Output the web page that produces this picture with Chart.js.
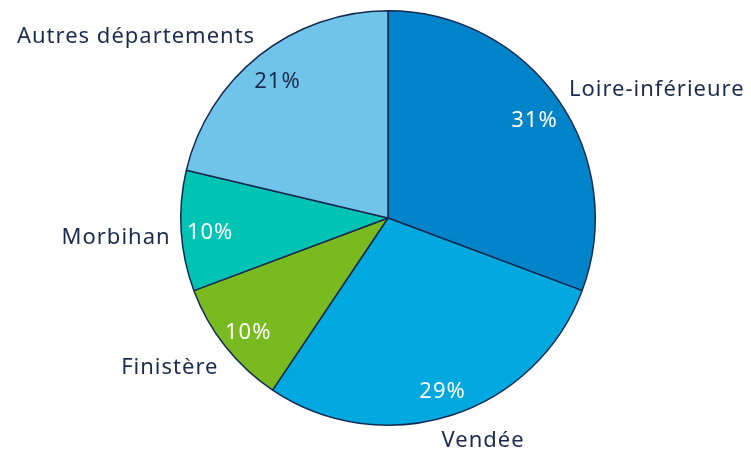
<!DOCTYPE html>
<html>
<head>
<meta charset="utf-8">
<script src="https://cdn.jsdelivr.net/npm/chart.js@4"></script>
<style>
  html, body { margin: 0; padding: 0; background: #fff; }
  #wrap { width: 751px; height: 455px; }
</style>
</head>
<body>
<div id="wrap"><canvas id="myChart" width="751" height="455"></canvas></div>
<script>
// departements and their share
const departements = ['Loire-inférieure', 'Vendée', 'Finistère', 'Morbihan', 'Autres départements'];
const shares = [30.7, 28.7, 9.9, 9.4, 21.3];
const percentLabels = ['31%', '29%', '10%', '10%', '21%'];

const sliceColors = ['#0084c9', '#00a8e0', '#78ba1f', '#00c4b3', '#70c4e9'];
const percentColors = ['#ffffff', '#ffffff', '#ffffff', '#ffffff', '#1b2a4e'];
const textColor = '#1b2a4e';
const fontFamily = '"Noto Sans", sans-serif';

// small nudges so the outside names sit where the original put them
const nameNudge = [[-3, -5], [-15, 6], [6, 7], [6, 2], [6, -10]];

// draws percentages inside and names outside each slice
const sliceLabels = {
  id: 'sliceLabels',
  afterDatasetsDraw(chart) {
    const ctx = chart.ctx;
    const arcs = chart.getDatasetMeta(0).data;
    ctx.save();
    ctx.font = '22px ' + fontFamily;
    ctx.letterSpacing = '1px';
    ctx.textBaseline = 'middle';
    arcs.forEach((arc, i) => {
      const p = arc.getProps(['x', 'y', 'startAngle', 'endAngle', 'outerRadius'], true);
      const mid = (p.startAngle + p.endAngle) / 2;
      const cos = Math.cos(mid), sin = Math.sin(mid);

      // percentage inside
      const rIn = p.outerRadius * 0.86;
      ctx.textAlign = 'center';
      ctx.fillStyle = percentColors[i];
      ctx.fillText(percentLabels[i], p.x + cos * rIn, p.y + sin * rIn + 4);

      // name outside
      const rOut = p.outerRadius * 1.08;
      ctx.textAlign = cos >= 0 ? 'left' : 'right';
      ctx.fillStyle = textColor;
      ctx.fillText(departements[i], p.x + cos * rOut + nameNudge[i][0], p.y + sin * rOut + 4 + nameNudge[i][1]);
    });
    ctx.restore();
  }
};

const ctx = document.getElementById('myChart').getContext('2d');
new Chart(ctx, {
  type: 'pie',
  data: {
    labels: departements,
    datasets: [{
      data: shares,
      backgroundColor: sliceColors,
      borderColor: '#142a50',
      borderWidth: 1.5
    }]
  },
  options: {
    responsive: false,
    animation: false,
    layout: { padding: { left: 180, right: 155, top: 9, bottom: 28 } },
    plugins: {
      legend: { display: false },
      tooltip: { enabled: false }
    }
  },
  plugins: [sliceLabels]
});
</script>
</body>
</html>
